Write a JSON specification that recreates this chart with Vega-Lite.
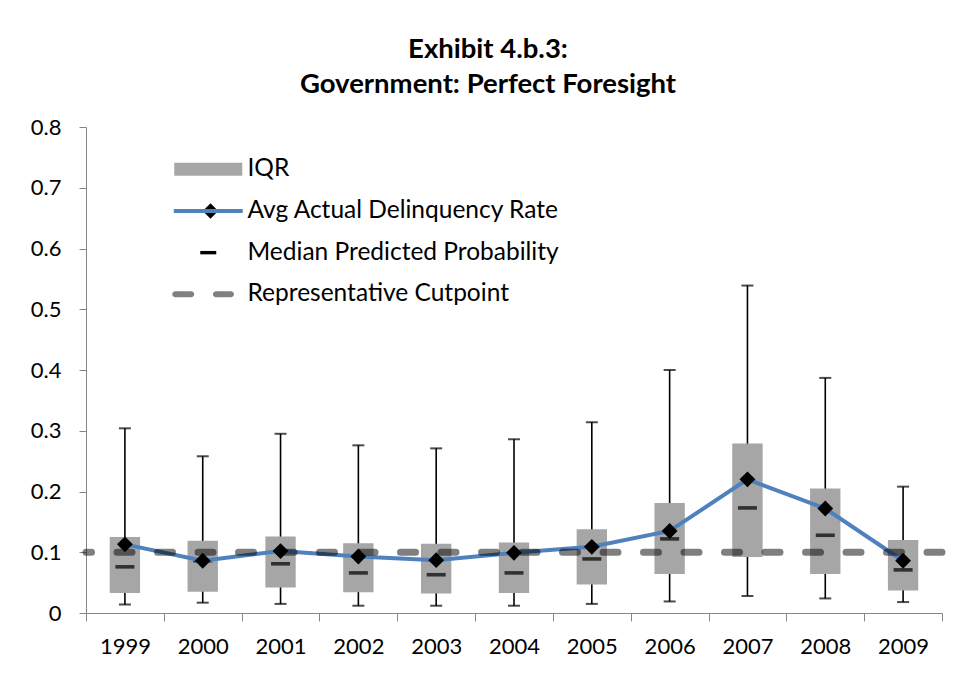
{
  "$schema": "https://vega.github.io/schema/vega-lite/v6.json",
  "width": 856,
  "height": 486,
  "autosize": "none",
  "padding": {"left": 86, "top": 127, "right": 12, "bottom": 63},
  "background": "white",
  "title": {
    "text": ["Exhibit 4.b.3:", "Government: Perfect Foresight"],
    "font": "Lato",
    "fontSize": 27.5,
    "fontWeight": "bold",
    "color": "black",
    "anchor": "middle",
    "dx": -26,
    "offset": 18,
    "lineHeight": 35
  },
  "config": {
    "view": {"stroke": null},
    "font": "Lato"
  },
  "datasets": {
    "boxes": [
      {"year": "1999", "low": 0.014, "q1": 0.033, "median": 0.076, "q3": 0.125, "high": 0.304, "avg": 0.113},
      {"year": "2000", "low": 0.017, "q1": 0.035, "median": 0.086, "q3": 0.119, "high": 0.258, "avg": 0.086},
      {"year": "2001", "low": 0.015, "q1": 0.042, "median": 0.081, "q3": 0.126, "high": 0.295, "avg": 0.102},
      {"year": "2002", "low": 0.012, "q1": 0.034, "median": 0.066, "q3": 0.115, "high": 0.276, "avg": 0.093},
      {"year": "2003", "low": 0.012, "q1": 0.032, "median": 0.063, "q3": 0.114, "high": 0.271, "avg": 0.087},
      {"year": "2004", "low": 0.012, "q1": 0.033, "median": 0.066, "q3": 0.116, "high": 0.286, "avg": 0.099},
      {"year": "2005", "low": 0.015, "q1": 0.047, "median": 0.089, "q3": 0.138, "high": 0.314, "avg": 0.109},
      {"year": "2006", "low": 0.019, "q1": 0.064, "median": 0.122, "q3": 0.181, "high": 0.400, "avg": 0.135},
      {"year": "2007", "low": 0.028, "q1": 0.092, "median": 0.173, "q3": 0.279, "high": 0.539, "avg": 0.220},
      {"year": "2008", "low": 0.024, "q1": 0.064, "median": 0.128, "q3": 0.205, "high": 0.387, "avg": 0.172},
      {"year": "2009", "low": 0.018, "q1": 0.037, "median": 0.071, "q3": 0.120, "high": 0.208, "avg": 0.086}
    ],
    "cut": [{"cutpoint": 0.1}]
  },
  "data": {"name": "boxes"},
  "encoding": {
    "x": {
      "field": "year",
      "type": "ordinal",
      "scale": {"paddingInner": 0, "paddingOuter": 0},
      "axis": {
        "title": null,
        "labelAngle": 0,
        "tickBand": "extent",
        "tickSize": 8,
        "tickColor": "#868686",
        "domainColor": "#868686",
        "labelFontSize": 22,
        "labelColor": "black",
        "labelPadding": 15,
        "labelFont": "Lato"
      }
    }
  },
  "layer": [
    {
      "mark": {"type": "rule", "color": "black", "strokeWidth": 1.6},
      "encoding": {
        "y": {
          "field": "low",
          "type": "quantitative",
          "scale": {"domain": [0, 0.8], "nice": false},
          "axis": {
            "title": null,
            "values": [0, 0.1, 0.2, 0.3, 0.4, 0.5, 0.6, 0.7, 0.8],
            "format": ".1~f",
            "grid": false,
            "tickSize": 7,
            "tickColor": "#868686",
            "domainColor": "#868686",
            "labelFontSize": 22,
            "labelColor": "black",
            "labelPadding": 18,
            "labelFont": "Lato"
          }
        },
        "y2": {"field": "high"}
      }
    },
    {
      "mark": {"type": "tick", "color": "black", "size": 12, "thickness": 2},
      "encoding": {"y": {"field": "high", "type": "quantitative"}}
    },
    {
      "mark": {"type": "tick", "color": "black", "size": 12, "thickness": 2},
      "encoding": {"y": {"field": "low", "type": "quantitative"}}
    },
    {
      "mark": {"type": "bar", "color": "#a6a6a6", "width": {"band": 0.39}},
      "encoding": {
        "y": {"field": "q1", "type": "quantitative"},
        "y2": {"field": "q3"}
      }
    },
    {
      "mark": {"type": "tick", "color": "black", "size": 19, "thickness": 3.6},
      "encoding": {"y": {"field": "median", "type": "quantitative"}}
    },
    {
      "mark": {"type": "line", "color": "#4f81bd", "strokeWidth": 4},
      "encoding": {"y": {"field": "avg", "type": "quantitative"}}
    },
    {
      "data": {"name": "cut"},
      "mark": {"type": "rule", "color": "black", "opacity": 0.5, "strokeWidth": 7, "strokeCap": "round", "strokeDash": [15, 25.5]},
      "encoding": {"x": null, "y": {"field": "cutpoint", "type": "quantitative"}}
    },
    {
      "mark": {"type": "point", "shape": "diamond", "filled": true, "size": 250, "opacity": 1},
      "encoding": {
        "y": {"field": "avg", "type": "quantitative"},
        "color": {
          "datum": "Avg Actual Delinquency Rate",
          "scale": {
            "domain": ["IQR", "Avg Actual Delinquency Rate", "Median Predicted Probability", "Representative Cutpoint"],
            "range": ["transparent", "black", "transparent", "transparent"]
          },
          "legend": {
            "title": null,
            "orient": "none",
            "legendX": 112.25,
            "legendY": 30,
            "symbolType": "diamond",
            "symbolSize": 240,
            "symbolStrokeWidth": 0,
            "labelFontSize": 24.5,
            "labelFont": "Lato",
            "labelColor": "transparent",
            "labelExpr": "' '",
            "labelLimit": 0,
            "labelOffset": 27,
            "rowPadding": 16.7,
            "padding": 0
          }
        }
      }
    },
    {
      "transform": [{"filter": "false"}],
      "mark": {"type": "point", "filled": true, "opacity": 1},
      "encoding": {
        "y": {"field": "avg", "type": "quantitative"},
        "color": {
          "datum": "IQR",
          "scale": {
            "domain": ["IQR", "Avg Actual Delinquency Rate", "Median Predicted Probability", "Representative Cutpoint"],
            "range": ["#a6a6a6", "#4f81bd", "black", "#808080"]
          },
          "legend": {
            "title": null,
            "orient": "none",
            "legendX": 110,
            "legendY": 30,
            "symbolSize": 400,
            "symbolStrokeWidth": 0,
            "symbolOpacity": 1,
            "labelFontSize": 24.5,
            "labelFont": "Lato",
            "labelColor": "black",
            "labelLimit": 0,
            "labelOffset": 27,
            "rowPadding": 16.7,
            "padding": 0
          }
        },
        "shape": {
          "datum": "IQR",
          "scale": {
            "domain": ["IQR", "Avg Actual Delinquency Rate", "Median Predicted Probability", "Representative Cutpoint"],
            "range": [
              "M-3.4,-0.65H3.4V0.65H-3.4Z",
              "M-3.45,-0.2H3.45V0.2H-3.45Z",
              "M-0.8,-0.17H0.8V0.17H-0.8Z",
              "M-3.3,-0.3H-1.7A0.3,0.3 0 0 1 -1.7,0.3H-3.3A0.3,0.3 0 0 1 -3.3,-0.3Z M0.77,-0.3H2.27A0.3,0.3 0 0 1 2.27,0.3H0.77A0.3,0.3 0 0 1 0.77,-0.3Z"
            ]
          },
          "legend": {
            "title": null,
            "orient": "none",
            "legendX": 110,
            "legendY": 30,
            "symbolSize": 400,
            "symbolStrokeWidth": 0,
            "symbolOpacity": 1,
            "labelFontSize": 24.5,
            "labelFont": "Lato",
            "labelColor": "black",
            "labelLimit": 0,
            "labelOffset": 27,
            "rowPadding": 16.7,
            "padding": 0
          }
        }
      }
    }
  ],
  "resolve": {
    "scale": {"color": "independent", "shape": "independent"},
    "legend": {"color": "independent", "shape": "independent"}
  }
}
